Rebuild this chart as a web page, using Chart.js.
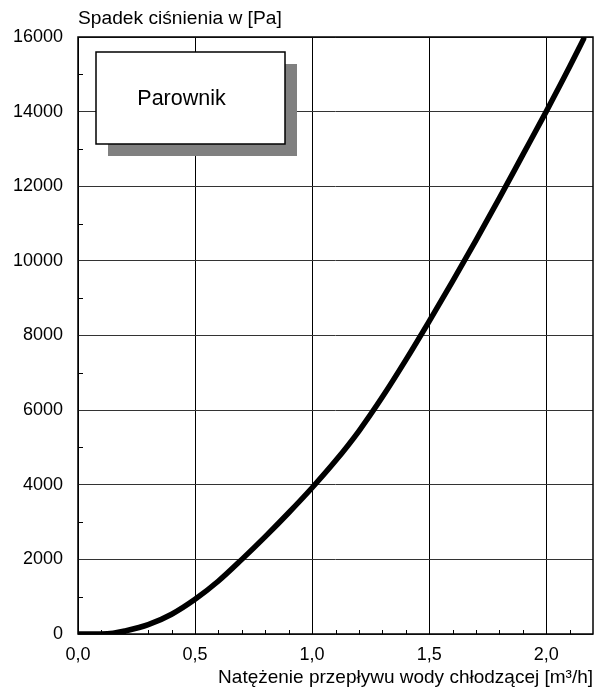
<!DOCTYPE html>
<html>
<head>
<meta charset="utf-8">
<script src="https://cdn.jsdelivr.net/npm/chart.js@4"></script>
<style>
    html, body { margin: 0; padding: 0; background: #fff; }
    #wrap { width: 610px; height: 689px; }
</style>
</head>
<body>
<div id="wrap"><canvas id="chart" width="610" height="689"></canvas></div>
<script>
// Flow rate [m3/h] and pressure drop [Pa]
const flowRates = [0, 0.1, 0.15, 0.2, 0.3, 0.4, 0.5, 0.6, 0.7, 0.8, 0.9, 1.0, 1.1, 1.2, 1.3, 1.4, 1.5, 1.6, 1.7, 1.8, 1.9, 2.0, 2.1, 2.16];
const pressureDrop = [0, 0, 20, 80, 250, 530, 930, 1420, 2000, 2610, 3250, 3920, 4640, 5440, 6350, 7340, 8380, 9450, 10550, 11680, 12840, 14000, 15200, 15950];

const yTitle = 'Spadek ciśnienia w [Pa]';
const xTitle = 'Natężenie przepływu wody chłodzącej [m³/h]';
const boxLabel = 'Parownik';

const xMinorTicks = [0.1, 0.2, 0.3, 0.4, 0.6, 0.7, 0.8, 0.9, 1.1, 1.2, 1.3, 1.4, 1.6, 1.7, 1.8, 1.9, 2.1];
const yMinorTicks = [1000, 3000, 5000, 7000, 9000, 11000, 13000, 15000];

const FONT = '"Liberation Sans", Arial, Helvetica, sans-serif';

// Frame, minor ticks, y title and the label box
const decorations = {
    id: 'decorations',
    afterDraw(chart) {
        const ctx = chart.ctx;
        const a = chart.chartArea;
        const xs = chart.scales.x;
        const ys = chart.scales.y;
        ctx.save();

        ctx.strokeStyle = '#000';
        ctx.lineWidth = 1;
        xMinorTicks.forEach(v => {
            const px = Math.round(xs.getPixelForValue(v)) + 0.5;
            ctx.beginPath();
            ctx.moveTo(px, a.bottom);
            ctx.lineTo(px, a.bottom - 4);
            ctx.stroke();
        });
        yMinorTicks.forEach(v => {
            const py = Math.round(ys.getPixelForValue(v)) + 0.5;
            ctx.beginPath();
            ctx.moveTo(a.left, py);
            ctx.lineTo(a.left + 5, py);
            ctx.stroke();
        });

        ctx.lineWidth = 1.5;
        ctx.strokeRect(a.left, a.top, a.right - a.left, a.bottom - a.top);

        // y axis title above the plot
        ctx.fillStyle = '#000';
        ctx.font = '19.2px ' + FONT;
        ctx.textAlign = 'left';
        ctx.textBaseline = 'alphabetic';
        ctx.fillText(yTitle, a.left, 24);

        // label box with shadow
        const bx = a.left + 18, by = a.top + 15, bw = 189, bh = 92;
        ctx.fillStyle = '#808080';
        ctx.fillRect(bx + 12, by + 12, bw, bh);
        ctx.fillStyle = '#fff';
        ctx.fillRect(bx, by, bw, bh);
        ctx.strokeStyle = '#000';
        ctx.lineWidth = 1.5;
        ctx.strokeRect(bx, by, bw, bh);
        ctx.fillStyle = '#000';
        ctx.font = '21.5px ' + FONT;
        ctx.textAlign = 'center';
        ctx.textBaseline = 'middle';
        ctx.fillText(boxLabel, bx + bw / 2 - 9, by + bh / 2 + 1);

        ctx.restore();
    }
};

new Chart(document.getElementById('chart'), {
    type: 'scatter',
    data: {
        datasets: [{
            data: flowRates.map((x, i) => ({ x: x, y: pressureDrop[i] })),
            showLine: true,
            borderColor: '#000',
            borderWidth: 5.5,
            pointRadius: 0,
            cubicInterpolationMode: 'monotone',
            borderCapStyle: 'round'
        }]
    },
    options: {
        responsive: false,
        animation: false,
        layout: { padding: { top: 37, right: 17, left: 0, bottom: 0 } },
        plugins: {
            legend: { display: false },
            tooltip: { enabled: false }
        },
        scales: {
            x: {
                type: 'linear',
                min: 0,
                max: 2.2,
                border: { display: false },
                grid: { color: '#000', lineWidth: 1, drawTicks: false },
                ticks: {
                    stepSize: 0.5,
                    includeBounds: false,
                    padding: 10,
                    color: '#000',
                    font: { family: FONT, size: 18 },
                    maxRotation: 0,
                    callback: v => v.toFixed(1).replace('.', ',')
                },
                title: {
                    display: true,
                    text: xTitle,
                    align: 'end',
                    color: '#000',
                    font: { family: FONT, size: 19 },
                    padding: { top: 1, bottom: 0 }
                },
                afterFit: s => { s.height = 55; }
            },
            y: {
                min: 0,
                max: 16000,
                border: { display: false },
                grid: { color: '#333', lineWidth: 1, drawTicks: false },
                ticks: {
                    stepSize: 2000,
                    padding: 15,
                    color: '#000',
                    font: { family: FONT, size: 18 },
                    callback: v => String(v)
                },
                afterFit: s => { s.width = 78; }
            }
        }
    },
    plugins: [decorations]
});
</script>
</body>
</html>
